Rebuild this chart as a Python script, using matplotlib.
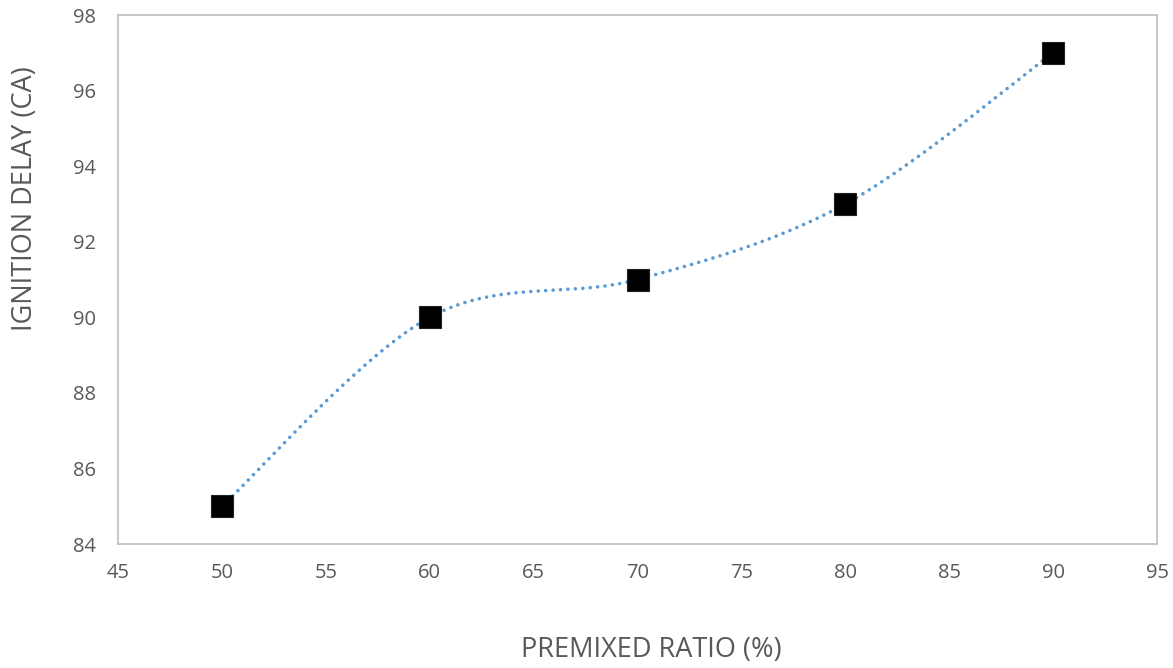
import numpy as np
import matplotlib
matplotlib.use("Agg")
import matplotlib.pyplot as plt

premixed_ratio = [50, 60, 70, 80, 90]
ignition_delay = [85, 90, 91, 93, 97]
x_ticks = [45, 50, 55, 60, 65, 70, 75, 80, 85, 90, 95]
y_ticks = [84, 86, 88, 90, 92, 94, 96, 98]

plt.rcParams['font.family'] = ['Open Sans', 'DejaVu Sans']

fig = plt.figure(figsize=(11.73, 6.68), dpi=100)
ax = fig.add_axes([0.1006, 0.1856, 0.8858, 0.7919])

# Excel-style smoothed line (Bezier through points)
def smooth(xs, ys, n=60):
    P = np.column_stack([xs, ys]).astype(float)
    sx = 1039 / 50.0
    sy = 529 / 14.0
    Q = P * [sx, sy]
    pts = []
    for i in range(len(Q) - 1):
        p0 = Q[i - 1] if i > 0 else Q[i]
        p1 = Q[i]
        p2 = Q[i + 1]
        p3 = Q[i + 2] if i + 2 < len(Q) else Q[i + 1]
        c1 = p1 + (p2 - p0) / 6.0
        c2 = p2 - (p3 - p1) / 6.0
        t = np.linspace(0, 1, n)[:, None]
        b = ((1 - t) ** 3) * p1 + 3 * ((1 - t) ** 2) * t * c1 + 3 * (1 - t) * t ** 2 * c2 + t ** 3 * p2
        pts.append(b if i == 0 else b[1:])
    B = np.vstack(pts) / [sx, sy]
    return B[:, 0], B[:, 1]

cx, cy = smooth(premixed_ratio, ignition_delay)
ax.plot(cx, cy, color='#5B9BD5', lw=2.6, linestyle=(0, (0.01, 2.05)),
        dash_capstyle='round', zorder=2)
ax.plot(premixed_ratio, ignition_delay, linestyle='none', marker='s',
        markersize=15.5, color='black', markeredgecolor='#222222',
        markeredgewidth=0.8, zorder=3)

ax.set_xlim(45, 95)
ax.set_ylim(84, 98)
ax.set_xticks(x_ticks)
ax.set_yticks(y_ticks)
ax.tick_params(length=0, labelsize=14.5, labelcolor='#595959')
ax.tick_params(axis='x', pad=14)
ax.tick_params(axis='y', pad=16)
for s in ax.spines.values():
    s.set_color('#BFBFBF')
    s.set_linewidth(1.2)

fig.text(0.555, 0.027, 'PREMIXED RATIO (%)', ha='center', va='center',
         fontsize=19.5, color='#595959')
fig.text(0.021, 0.703, 'IGNITION DELAY (CA)', ha='center', va='center',
         rotation=90, fontsize=19.5, color='#595959')

fig.savefig('out.png', dpi=100, facecolor='white')
